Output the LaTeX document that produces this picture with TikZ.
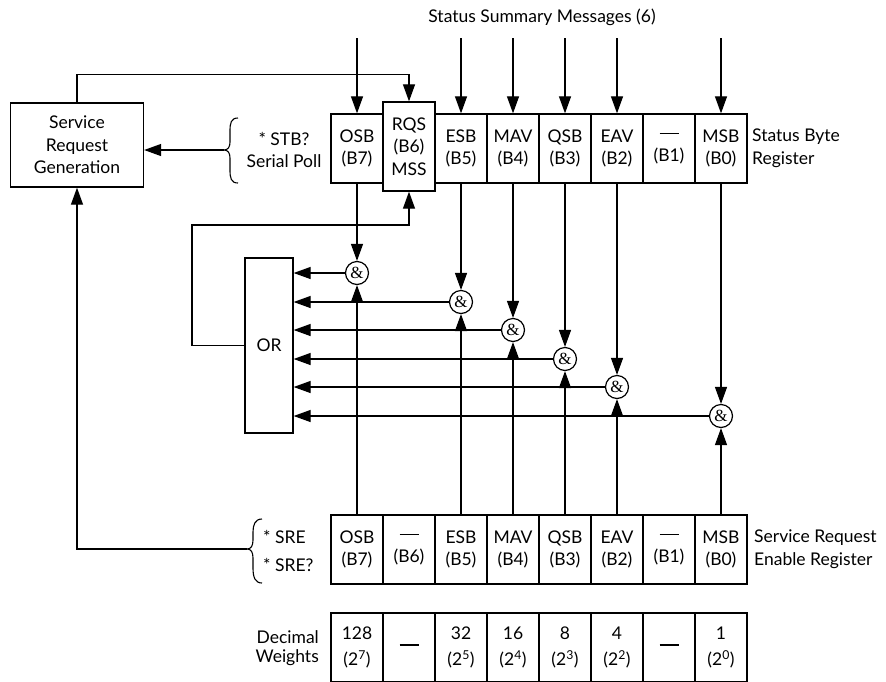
\documentclass[tikz,border=0pt]{standalone}
\usepackage{fontspec}
\setmainfont{Lato}
\newfontfamily\ampfont{Liberation Serif}
\usetikzlibrary{arrows.meta}
\newcommand{\bardash}{\rule[5pt]{19pt}{1.3pt}}
\begin{document}
\begin{tikzpicture}[x=1pt,y=-1pt,
  every node/.style={font=\fontsize{17.5}{22.5}\selectfont},
  cell/.style={draw, line width=1.3pt, minimum width=52pt, minimum height=69pt, inner sep=0pt, align=center, fill=white},
  gate/.style={draw, circle, line width=1.2pt, minimum size=23pt, inner sep=0pt, fill=white, font=\ampfont\fontsize{17}{17}\selectfont},
  box/.style={draw, line width=1.3pt, inner sep=0pt, align=center},
  wire/.style={line width=1.2pt},
  arr/.style={wire, -{Triangle[length=17pt,width=12pt]}},
  lbl/.style={inner sep=0pt},
  brc/.style={line width=1.1pt},
]
\useasboundingbox (0,0) rectangle (886,681);
\clip (0,0) rectangle (886,681);

% ---------- Status Byte Register ----------
\node[cell] (sb7) at (357,148.5) {OSB\\(B7)};
\node[cell] (sb5) at (461,148.5) {ESB\\(B5)};
\node[cell] (sb4) at (513,148.5) {MAV\\(B4)};
\node[cell] (sb3) at (565,148.5) {QSB\\(B3)};
\node[cell] (sb2) at (617,148.5) {EAV\\(B2)};
\node[cell] (sb1) at (669,148.5) {\bardash\\(B1)};
\node[cell] (sb0) at (721,148.5) {MSB\\(B0)};
\node[cell, minimum height=89pt] (sb6) at (409,146.5) {RQS\\(B6)\\MSS};

\node[lbl, align=left, anchor=west] (sbr) at (752,148.5) {Status Byte\\Register};
\node[lbl] (ssm) at (542,17) {Status Summary Messages (6)};

% summary message inputs
\foreach \n/\x in {7/357,5/461,4/513,3/565,2/617,0/721}{
  \coordinate (in\n) at (\x,38);
  \draw[arr] (in\n) -- (sb\n.north);
}

% ---------- Service Request Generation ----------
\node[box, minimum width=133pt, minimum height=84pt] (srg) at (77,145) {Service\\Request\\Generation};
\draw[arr] (srg.north) -- ++(0,-28) -| (sb6.north);

% STB brace
\node[lbl, align=center] (stb) at (284,150) {* STB?\\Serial Poll};
\draw[brc] (238,118) .. controls (231,118) and (230,123) .. (230,131) -- (230,142)
  .. controls (230,147) and (228,150) .. (224,150)
  .. controls (228,150) and (230,153) .. (230,158) -- (230,170)
  .. controls (230,178) and (231,183) .. (238,183);
\coordinate (stbtip) at (224,150);
\draw[arr] (stbtip) -- (srg.east |- stbtip);

% ---------- OR gate and AND gates ----------
\node[box, minimum width=48pt, minimum height=175pt] (or) at (269,345.5) {OR};

\node[gate] (g7) at (357,273) {\&};
\node[gate] (g5) at (461,302) {\&};
\node[gate] (g4) at (513,330) {\&};
\node[gate] (g3) at (565,359) {\&};
\node[gate] (g2) at (617,387) {\&};
\node[gate] (g0) at (721,416) {\&};

% ---------- Service Request Enable Register ----------
\node[cell] (se7) at (357,549.5) {OSB\\(B7)};
\node[cell] (se6) at (409,549.5) {\bardash\\(B6)};
\node[cell] (se5) at (461,549.5) {ESB\\(B5)};
\node[cell] (se4) at (513,549.5) {MAV\\(B4)};
\node[cell] (se3) at (565,549.5) {QSB\\(B3)};
\node[cell] (se2) at (617,549.5) {EAV\\(B2)};
\node[cell] (se1) at (669,549.5) {\bardash\\(B1)};
\node[cell] (se0) at (721,549.5) {MSB\\(B0)};
\node[lbl, align=left, anchor=west] (sre) at (754,549) {Service Request\\Enable Register};

% gate wiring
\foreach \n in {7,5,4,3,2,0}{
  \draw[arr] (sb\n.south) -- (g\n.north);
  \draw[arr] (se\n.north) -- (g\n.south);
  \draw[arr] (g\n.west) -- (or.east |- g\n.west);
}

% OR feedback to RQS
\draw[arr] (or.west) -- (192,345.5) -- (192,225) -- (sb6.south |- 0,225) -- (sb6.south);

% SRE brace
\node[lbl, align=left, anchor=west] (srecmd) at (263,551) {* SRE\\[5pt]* SRE?};
\draw[brc] (262,519) .. controls (255,519) and (253,525) .. (253,532) -- (253,540)
  .. controls (253,546) and (251,549) .. (247,549)
  .. controls (251,549) and (253,552) .. (253,558) -- (253,568)
  .. controls (253,577) and (255,583) .. (262,583);
\coordinate (sretip) at (247,549);
\draw[arr] (sretip) -- (srg.south |- sretip) -- (srg.south);

% ---------- Decimal weights ----------
\node[lbl, align=right, anchor=east, font=\fontsize{17.5}{19.5}\selectfont] (dw) at (319,648) {Decimal\\Weights};
\node[cell] (w7) at (357,647.5) {128\\[4pt](2\textsuperscript{7})};
\node[cell] (w6) at (409,647.5) {\bardash};
\node[cell] (w5) at (461,647.5) {32\\[4pt](2\textsuperscript{5})};
\node[cell] (w4) at (513,647.5) {16\\[4pt](2\textsuperscript{4})};
\node[cell] (w3) at (565,647.5) {8\\[4pt](2\textsuperscript{3})};
\node[cell] (w2) at (617,647.5) {4\\[4pt](2\textsuperscript{2})};
\node[cell] (w1) at (669,647.5) {\bardash};
\node[cell] (w0) at (721,647.5) {1\\[4pt](2\textsuperscript{0})};
\end{tikzpicture}
\end{document}
